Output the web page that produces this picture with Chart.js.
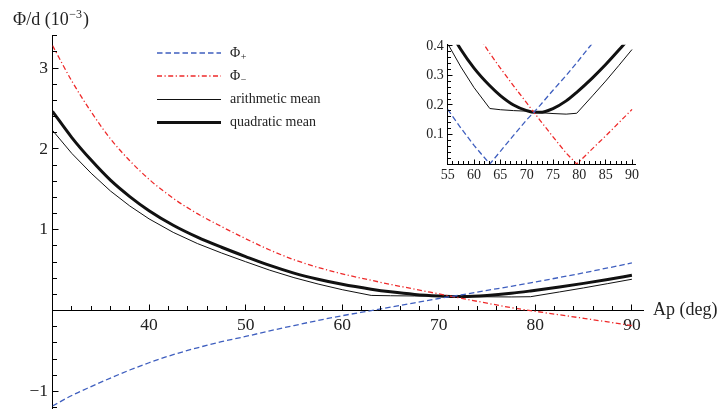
<!DOCTYPE html>
<html><head><meta charset="utf-8">
<script src="https://cdn.jsdelivr.net/npm/chart.js@4.4.0/dist/chart.umd.min.js"></script>
<style>
html,body{margin:0;padding:0;background:#fff;}
#wrap{position:relative;width:717px;height:410px;overflow:hidden;background:#fff;}
#main{position:absolute;left:0;top:0;}
#inset{position:absolute;left:380px;top:20px;}
</style></head><body>
<div id="wrap"><canvas id="main" width="717" height="410"></canvas><canvas id="inset" width="280" height="175"></canvas></div>
<script>
// ---------- data ----------
const angles = [30,32,34,36,38,40,42.5,45,47.5,50,52.5,55,57.5,60,63,65,67.5,70,71.5,72.5,75,77.5,79.5,82.5,85,87.5,90];
const phiPlus = [-1.18,-1.05,-0.94,-0.835,-0.735,-0.645,-0.545,-0.46,-0.385,-0.32,-0.25,-0.185,-0.122,-0.063,0,0.043,0.097,0.15,0.178,0.198,0.25,0.30,0.343,0.41,0.467,0.528,0.59];
const phiMinus = [3.28,2.84,2.46,2.125,1.855,1.625,1.39,1.20,1.04,0.89,0.75,0.63,0.535,0.455,0.375,0.325,0.265,0.207,0.172,0.149,0.092,0.037,0,-0.052,-0.095,-0.14,-0.185];
const arithMean = [2.23,1.945,1.70,1.48,1.295,1.135,0.968,0.83,0.713,0.605,0.50,0.408,0.329,0.259,0.188,0.184,0.181,0.179,0.175,0.174,0.171,0.169,0.172,0.231,0.281,0.334,0.388];
const quadMean = [2.465,2.141,1.862,1.614,1.411,1.236,1.056,0.909,0.784,0.669,0.559,0.464,0.388,0.325,0.265,0.232,0.200,0.181,0.175,0.175,0.188,0.214,0.243,0.292,0.337,0.386,0.437];
const seriesLabels = ['Φ+','Φ−','arithmetic mean','quadratic mean'];
const xTickLabels = [40,50,60,70,80,90];
const yTickLabels = [-1,1,2,3];

const insetAngles = [55,57.5,60,63,65,67.5,70,71.5,72.5,75,77.5,79.5,82.5,85,87.5,90];
const insetPlusAbs = [0.185,0.122,0.063,0,0.043,0.097,0.15,0.178,0.198,0.25,0.30,0.343,0.41,0.467,0.528,0.59];
const insetMinusAbs = [0.63,0.535,0.455,0.375,0.325,0.265,0.207,0.172,0.149,0.092,0.037,0,0.052,0.095,0.14,0.185];
const insetArith = [0.408,0.329,0.259,0.188,0.184,0.181,0.179,0.175,0.174,0.171,0.169,0.172,0.231,0.281,0.334,0.388];
const insetQuad = [0.464,0.388,0.325,0.265,0.232,0.200,0.181,0.175,0.175,0.188,0.214,0.243,0.292,0.337,0.386,0.437];
const insetXTickLabels = [55,60,65,70,75,80,85,90];
const insetYTickLabels = [0.1,0.2,0.3,0.4];

// ---------- styles ----------
const SERIF = '"Liberation Serif","Times New Roman",serif';
const TXT = '#222';
const BLUE = '#3f5fbf';
const RED = '#ee2a2a';
const BLK = '#111';
Chart.defaults.font.family = SERIF;
Chart.defaults.color = TXT;

function pts(xs, ys){ return xs.map((x,i)=>({x:x, y:ys[i]})); }
function near(v, list, tol){ for (const t of list){ if (Math.abs(v-t) < tol) return t; } return null; }
function fixY(w){ return function(s){ s.width = w; s.paddingTop = 0; s.paddingBottom = 0; }; }
function fixX(h){ return function(s){ s.height = h; s.paddingLeft = 0; s.paddingRight = 0; }; }

const styles = [
  {borderColor: BLUE, borderWidth: 1.3, borderDash: [5.5,3], cubicInterpolationMode: 'monotone'},
  {borderColor: RED, borderWidth: 1.3, borderDash: [5,2.5,1.2,2.5], cubicInterpolationMode: 'monotone'},
  {borderColor: BLK, borderWidth: 1, tension: 0},
  {borderColor: BLK, borderWidth: 3, cubicInterpolationMode: 'monotone'}
];

function makeDatasets(xs, arrays, monotone){
  return arrays.map((a,i)=>Object.assign({
    label: seriesLabels[i], data: pts(xs, a), pointRadius: 0, fill: false
  }, styles[i], monotone ? {} : {cubicInterpolationMode: 'default', tension: 0}));
}

// tick marks drawn inward from each axis, at the scales' own tick values
function makeTickPlugin(major, minor, xAtZero){
  return {
    id: 'tickmarks',
    afterDraw(chart){
      const ctx = chart.ctx;
      const xs = chart.scales.x, ys = chart.scales.y;
      const xAxisPix = Math.floor(xAtZero ? ys.getPixelForValue(0) : chart.chartArea.bottom);
      const yAxisPix = Math.floor(chart.chartArea.left);
      ctx.save();
      ctx.fillStyle = '#000';
      xs.ticks.forEach(t => {
        const px = Math.floor(xs.getPixelForValue(t.value));
        const len = t.label ? major : minor;
        ctx.fillRect(px, xAxisPix - len, 1, len);
      });
      ys.ticks.forEach(t => {
        const py = Math.floor(ys.getPixelForValue(t.value));
        const len = t.label ? major : minor;
        ctx.fillRect(yAxisPix + 1, py, len, 1);
      });
      ctx.restore();
    }
  };
}

const textPlugin = {
  id: 'texts',
  afterDraw(chart){
    const ctx = chart.ctx;
    ctx.save();
    ctx.fillStyle = TXT;
    ctx.textBaseline = 'alphabetic';
    ctx.textAlign = 'left';
    ctx.font = '18px ' + SERIF;
    let x = 13;
    ctx.fillText('Φ/d (10', x, 25);
    x += ctx.measureText('Φ/d (10').width + 0.5;
    ctx.font = '12px ' + SERIF;
    ctx.fillText('−3', x, 17.5);
    x += ctx.measureText('−3').width + 1;
    ctx.font = '18px ' + SERIF;
    ctx.fillText(')', x, 25);
    ctx.textBaseline = 'middle';
    ctx.fillText('Ap (deg)', 653, chart.scales.y.getPixelForValue(0));
    const ys = [53, 76, 99.5, 122.5];
    chart.data.datasets.forEach((ds, i) => {
      ctx.save();
      ctx.strokeStyle = ds.borderColor;
      ctx.lineWidth = ds.borderWidth;
      ctx.setLineDash(ds.borderDash || []);
      ctx.beginPath(); ctx.moveTo(157, ys[i]); ctx.lineTo(221, ys[i]); ctx.stroke();
      ctx.restore();
      ctx.fillStyle = TXT;
      ctx.textBaseline = 'middle';
      const lab = ds.label;
      if (i < 2) {
        ctx.font = '14px ' + SERIF;
        ctx.fillText(lab.charAt(0), 230, ys[i]);
        const w = ctx.measureText(lab.charAt(0)).width;
        ctx.font = '10px ' + SERIF;
        ctx.fillText(lab.slice(1), 230 + w + 0.5, ys[i] + 4);
      } else {
        ctx.font = '14px ' + SERIF;
        ctx.fillText(lab, 230, ys[i]);
      }
    });
    ctx.restore();
  }
};

const axisCommon = {
  border: {display: true, color: '#000', width: 1},
  grid: {display: true, drawOnChartArea: false, drawTicks: false, tickLength: 0}
};

new Chart(document.getElementById('main'), {
  type: 'line',
  data: {datasets: makeDatasets(angles, [phiPlus, phiMinus, arithMean, quadMean], true)},
  options: {
    responsive: false, animation: false, events: [],
    layout: {padding: {left: 0, top: 35, right: 74, bottom: 2}},
    plugins: {legend: {display: false}, tooltip: {enabled: false}},
    scales: {
      x: Object.assign({}, axisCommon, {
        type: 'linear', min: 30, max: 91.15, position: {y: 0},
        afterFit: fixX(0),
        ticks: {stepSize: 2, autoSkip: false, maxRotation: 0, minRotation: 0, includeBounds: false, padding: 4.5,
          font: {size: 17.5, family: SERIF}, color: TXT,
          callback: (v) => { const t = near(v, xTickLabels, 1e-6); return t === null ? '' : String(t); }}
      }),
      y: Object.assign({}, axisCommon, {
        type: 'linear', min: -1.205, max: 3.41, position: 'left',
        afterFit: fixY(52.5),
        ticks: {stepSize: 0.2, autoSkip: false, includeBounds: false, padding: 4.5,
          font: {size: 17.5, family: SERIF}, color: TXT,
          callback: (v) => { const t = near(v, yTickLabels, 1e-6); return t === null ? '' : (t < 0 ? '\u2212' + Math.abs(t) : String(t)); }}
      })
    }
  },
  plugins: [makeTickPlugin(5.5, 4, true), textPlugin]
});

new Chart(document.getElementById('inset'), {
  type: 'line',
  data: {datasets: makeDatasets(insetAngles, [insetPlusAbs, insetMinusAbs, insetArith, insetQuad], false)
    .map((d,i)=> i === 3 ? Object.assign(d, {cubicInterpolationMode: 'monotone'}) : d)},
  options: {
    responsive: false, animation: false, events: [],
    layout: {padding: {left: 0, top: 24.8, right: 24.3, bottom: 0}},
    plugins: {legend: {display: false}, tooltip: {enabled: false}},
    scales: {
      x: Object.assign({}, axisCommon, {
        type: 'linear', min: 55, max: 90.7, position: 'bottom',
        afterFit: fixX(31),
        ticks: {stepSize: 1, autoSkip: false, maxRotation: 0, minRotation: 0, includeBounds: false, padding: 3,
          font: {size: 14, family: SERIF}, color: TXT,
          callback: (v) => { const t = near(v, insetXTickLabels, 1e-6); return t === null ? '' : String(t); }}
      }),
      y: Object.assign({}, axisCommon, {
        type: 'linear', min: 0, max: 0.404, position: 'left',
        afterFit: fixY(67.7),
        ticks: {stepSize: 0.02, autoSkip: false, includeBounds: false, padding: 4,
          font: {size: 14, family: SERIF}, color: TXT,
          callback: (v) => { const t = near(v, insetYTickLabels, 1e-6); return t === null ? '' : t.toFixed(1); }}
      })
    }
  },
  plugins: [makeTickPlugin(4.5, 3, false)]
});
</script>
</body></html>
